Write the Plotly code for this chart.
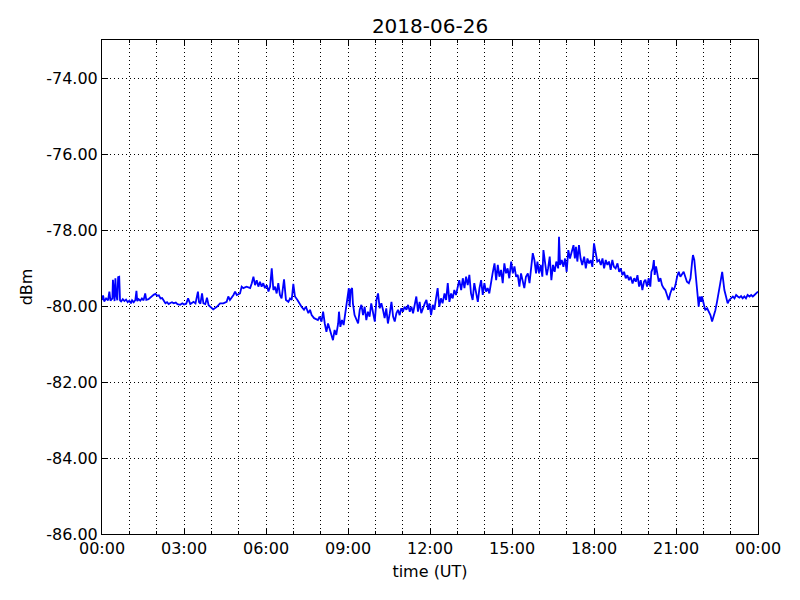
import datetime as dt
import plotly.graph_objects as go

title_text = "2018-06-26"
x_label = "time (UT)"
y_label = "dBm"

# hours after 00:00 UT and received level (dBm)
hours_ut = [
    0.00, 0.04, 0.08, 0.15, 0.22, 0.27, 0.31, 0.38, 0.40, 0.43, 0.46, 0.49, 0.52, 0.56, 0.59, 0.63,
    0.66, 0.70, 0.76, 0.82, 0.88, 0.94, 1.00, 1.06, 1.10, 1.16, 1.22, 1.26, 1.29, 1.34, 1.40, 1.46,
    1.52, 1.58, 1.62, 1.70, 1.76, 1.83, 1.90, 1.96, 2.02, 2.08, 2.14, 2.20, 2.26, 2.32, 2.38, 2.44,
    2.50, 2.56, 2.62, 2.70, 2.76, 2.86, 2.94, 3.00, 3.08, 3.15, 3.23, 3.30, 3.35, 3.42, 3.48, 3.51,
    3.55, 3.60, 3.66, 3.71, 3.78, 3.84, 3.90, 3.96, 4.02,
    4.07, 4.20, 4.32, 4.44, 4.56, 4.62, 4.68, 4.81, 4.87, 4.93, 5.05, 5.11, 5.17, 5.29, 5.42, 5.48,
    5.54, 5.60, 5.66, 5.72, 5.78, 5.84, 5.90, 5.96, 6.03, 6.09, 6.15, 6.21, 6.27, 6.33, 6.39, 6.45,
    6.51, 6.57, 6.66, 6.73, 6.82, 6.88, 6.94, 7.00, 7.06, 7.15, 7.22, 7.30, 7.39, 7.46, 7.55, 7.61,
    7.67, 7.76,
    7.90, 7.96, 8.03, 8.09, 8.15, 8.21, 8.27, 8.33, 8.39, 8.45, 8.51, 8.57, 8.64, 8.67, 8.72, 8.78,
    8.84, 8.90, 8.94, 8.98, 9.03, 9.06, 9.10, 9.15, 9.18, 9.24, 9.31, 9.37, 9.43, 9.49, 9.55, 9.61,
    9.67, 9.73, 9.79, 9.85, 9.92, 9.98, 10.04, 10.10, 10.16, 10.22, 10.28, 10.34, 10.40, 10.46, 10.53,
    10.59, 10.65, 10.71, 10.77, 10.83, 10.89, 10.95, 11.01, 11.07, 11.14, 11.20, 11.26, 11.32, 11.38,
    11.44, 11.50, 11.56, 11.62, 11.68, 11.75, 11.81, 11.87, 11.93,
    11.98, 12.04, 12.10, 12.16, 12.22, 12.28, 12.34, 12.40, 12.46, 12.53, 12.59, 12.65, 12.71, 12.77,
    12.83, 12.89, 12.95, 13.01, 13.07, 13.14, 13.20, 13.26, 13.32, 13.38, 13.44, 13.50, 13.56, 13.62,
    13.68, 13.75, 13.81, 13.87, 13.93, 13.99, 14.05, 14.11, 14.17, 14.23, 14.29, 14.36, 14.42, 14.48,
    14.54, 14.60, 14.66, 14.72, 14.78, 14.84, 14.90, 14.97, 15.03, 15.09, 15.15, 15.21, 15.27, 15.33,
    15.39, 15.45, 15.51, 15.58, 15.64, 15.70, 15.76, 15.82, 15.88,
    15.93, 15.99, 16.05, 16.11, 16.15, 16.20, 16.27, 16.32, 16.38, 16.44, 16.50, 16.56, 16.62, 16.69,
    16.72, 16.76, 16.82, 16.88, 16.94, 17.00, 17.06, 17.12, 17.19, 17.25, 17.30, 17.34, 17.39, 17.45,
    17.51, 17.57, 17.64, 17.70, 17.76, 17.82, 17.88, 17.94, 18.00, 18.06, 18.12, 18.19, 18.25, 18.31,
    18.37, 18.43, 18.49, 18.55, 18.61, 18.67, 18.73, 18.79, 18.86, 18.92, 18.98, 19.04, 19.10, 19.16,
    19.22, 19.28, 19.34, 19.41, 19.47, 19.53, 19.59, 19.65, 19.71, 19.77, 19.83,
    19.88, 19.94, 20.00, 20.06, 20.10, 20.15, 20.19, 20.22, 20.27, 20.32, 20.37, 20.43, 20.49, 20.55,
    20.61, 20.67, 20.73, 20.79, 20.86, 20.92, 20.98, 21.04, 21.10, 21.16, 21.22, 21.28, 21.34, 21.40,
    21.47, 21.53, 21.59, 21.62, 21.67, 21.71, 21.75, 21.79, 21.83, 21.87, 21.92, 21.95, 22.01, 22.07,
    22.14, 22.20, 22.26, 22.32, 22.38, 22.44, 22.50, 22.56, 22.62, 22.69, 22.72, 22.77, 22.83, 22.89,
    22.95, 23.01, 23.08, 23.14, 23.20, 23.26, 23.32, 23.38, 23.44, 23.50, 23.56, 23.62, 23.69, 23.75,
    23.81, 23.87, 23.93, 24.00,
]

dbm = [
    -79.84, -79.72, -79.88, -79.80, -79.85, -79.62, -79.86, -79.80, -79.31, -79.79, -79.87, -79.27, -79.70, -79.85, -79.24, -79.23,
    -79.85, -79.88, -79.82, -79.87, -79.83, -79.90, -79.86, -79.93, -79.85, -79.90, -79.84, -79.60, -79.87, -79.82, -79.86, -79.80,
    -79.85, -79.67, -79.84, -79.82, -79.78, -79.76, -79.70, -79.68, -79.73, -79.72, -79.80, -79.79, -79.88, -79.93, -79.90, -79.95,
    -79.92, -79.90, -79.93, -79.91, -79.95, -79.97, -79.93, -79.96, -79.94, -79.80, -79.95, -79.92, -79.89, -79.93, -79.70, -79.62,
    -79.90, -79.94, -79.67, -79.93, -79.95, -79.78, -79.98, -80.02, -80.06,
    -80.09, -80.02, -79.93, -79.93, -79.89, -79.75, -79.84, -79.71, -79.62, -79.71, -79.67, -79.49, -79.53, -79.49, -79.53, -79.40,
    -79.23, -79.45, -79.32, -79.49, -79.36, -79.49, -79.40, -79.53, -79.45, -79.62, -79.49, -79.01, -79.58, -79.49, -79.67, -79.40,
    -79.71, -79.80, -79.30, -79.84, -79.89, -79.80, -79.84, -79.42, -79.75, -79.84, -79.93, -80.02, -80.10, -80.02, -80.19, -80.10,
    -80.24, -80.32,
    -80.37, -80.28, -80.41, -80.15, -80.46, -80.68, -80.46, -80.59, -80.72, -80.90, -80.63, -80.76, -80.46, -80.15, -80.55, -80.37,
    -80.50, -80.19, -79.93, -79.67, -79.53, -80.02, -79.58, -79.53, -79.93, -80.24, -80.37, -80.46, -80.10, -79.97, -80.24, -80.02,
    -80.37, -80.15, -80.28, -79.93, -80.19, -80.41, -79.84, -79.67, -80.06, -79.93, -80.10, -80.32, -80.06, -80.46, -80.19,
    -79.89, -80.28, -80.41, -80.19, -80.10, -80.24, -80.06, -80.15, -80.02, -80.10, -79.97, -80.15, -80.02, -80.19,
    -79.97, -79.75, -80.15, -79.89, -80.19, -80.02, -79.93, -79.84, -80.10,
    -79.93, -80.24, -79.97, -80.10, -79.80, -79.53, -80.02, -79.80, -79.93, -79.67, -79.84, -79.40, -79.89, -79.67,
    -79.80, -79.58, -79.71, -79.49, -79.32, -79.58, -79.27, -79.53, -79.23, -79.45, -79.18, -79.67, -79.84, -79.40,
    -79.62, -79.89, -79.53, -79.32, -79.71, -79.40, -79.62, -79.53, -79.67, -79.36, -79.14, -78.88, -79.32, -78.92,
    -79.23, -79.05, -79.40, -78.88, -79.14, -79.01, -79.27, -78.83, -79.14, -78.96, -79.23, -79.18, -79.49, -79.14,
    -79.32, -79.53, -79.23, -79.14, -79.40, -78.96, -78.61, -78.79, -79.14,
    -78.83, -79.14, -78.92, -79.23, -78.53, -78.83, -79.19, -79.01, -78.70, -79.32, -78.92, -79.10, -78.83, -79.01,
    -78.18, -78.92, -78.79, -78.97, -78.75, -79.10, -78.53, -78.75, -78.57, -78.40, -78.75, -78.44, -78.83, -78.40,
    -78.75, -78.92, -78.70, -79.01, -78.75, -78.88, -78.79, -78.97, -78.35, -78.57, -78.83, -78.79, -78.92, -78.75,
    -79.01, -78.79, -78.92, -78.83, -79.05, -78.79, -78.97, -79.01, -78.88, -79.10, -79.01, -79.19, -79.10, -79.27,
    -79.19, -79.32, -79.23, -79.41, -79.27, -79.36, -79.19, -79.49, -79.32, -79.58, -79.36,
    -79.31, -79.49, -79.27, -79.49, -79.10, -79.01, -78.79, -79.18, -78.96, -79.23, -79.36, -79.27, -79.45, -79.53,
    -79.58, -79.71, -79.84, -79.67, -79.53, -79.58, -79.45, -79.23, -79.10, -79.23, -79.18, -79.10, -79.23, -79.36,
    -79.40, -79.27, -78.83, -78.66, -78.79, -79.10, -79.53, -79.89, -80.02, -79.75, -79.89, -79.75, -79.97, -80.11,
    -80.06, -80.15, -80.24, -80.41, -80.28, -80.11, -79.89, -79.58, -79.40, -79.10, -79.36, -79.58, -79.75, -79.93,
    -79.84, -79.80, -79.75, -79.80, -79.71, -79.75, -79.78, -79.74, -79.80, -79.75, -79.80, -79.71, -79.75, -79.71,
    -79.75, -79.71, -79.67, -79.62,
]

y_ticks = [-86, -84, -82, -80, -78, -76, -74]

day_start = dt.datetime(2018, 6, 26)
times = [day_start + dt.timedelta(hours=h) for h in hours_ut]

FONT = "DejaVu Sans"
# the page body has an 8 px margin, so the figure is drawn 8 px right/down
W, H = 784, 584

fig = go.Figure(
    go.Scatter(x=times, y=dbm, mode="lines",
               line=dict(color="#0000ff", width=1.8), showlegend=False)
)

fig.update_layout(
    width=W, height=H,
    margin=dict(l=94, r=34, t=32, b=58, autoexpand=False),
    paper_bgcolor="white", plot_bgcolor="white",
    font=dict(family=FONT, size=16, color="black"),
    title=dict(text=title_text, x=0.5, xref="paper", xanchor="center",
               y=1 - 18 / H, yref="container", yanchor="middle",
               font=dict(family=FONT, size=20, color="black")),
)

fig.update_xaxes(
    type="date",
    range=[day_start, day_start + dt.timedelta(days=1)],
    tick0=day_start, dtick=3 * 3600 * 1000, tickformat="%H:%M",
    ticks="inside", ticklen=6, tickcolor="black", tickwidth=1,
    showline=True, linecolor="black", linewidth=1, mirror="ticks",
    showgrid=True, gridcolor="black", gridwidth=1, griddash="1px,3px",
    minor=dict(dtick=3600 * 1000, ticks="inside", ticklen=3, tickcolor="black",
               showgrid=True, gridcolor="black", gridwidth=1, griddash="1px,3px"),
    zeroline=False,
    title=dict(text=x_label, standoff=8, font=dict(family=FONT, size=16)),
    tickfont=dict(family=FONT, size=16),
)

fig.update_yaxes(
    range=[-86, -73],
    tickvals=y_ticks, ticktext=[f"{v:.2f}" for v in y_ticks],
    ticks="inside", ticklen=6, tickcolor="black", tickwidth=1,
    showline=True, linecolor="black", linewidth=1, mirror="ticks",
    showgrid=True, gridcolor="black", gridwidth=1, griddash="1px,3px",
    zeroline=False,
    title=dict(text=y_label, standoff=9, font=dict(family=FONT, size=16)),
    tickfont=dict(family=FONT, size=16),
)

fig.write_html("out.html")
